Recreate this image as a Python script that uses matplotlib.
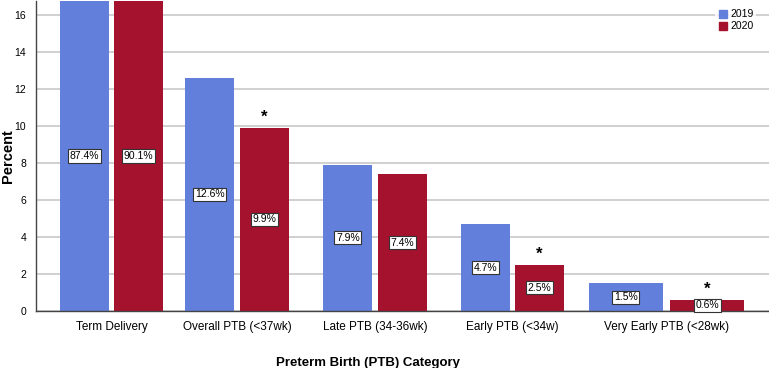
import matplotlib.pyplot as plt
from matplotlib.patches import Patch

categories = ["Term Delivery", "Overall PTB (<37wk)", "Late PTB (34-36wk)",
              "Early PTB (<34w)", "Very Early PTB (<28wk)"]
pct_2019 = [87.4, 12.6, 7.9, 4.7, 1.5]
pct_2020 = [90.1, 9.9, 7.4, 2.5, 0.6]
signif_2020 = [False, True, False, True, True]

# layout (category centres / bar widths, in axis units)
xc = [0.0, 0.905, 1.90, 2.89, 4.0]
bw = [0.353, 0.353, 0.353, 0.353, 0.533]
off = [0.196, 0.196, 0.196, 0.196, 0.294]
ymax = 16.75

c19 = "#6280DB"
c20 = "#A5122D"

plt.rcParams['font.family'] = ['Liberation Sans', 'DejaVu Sans']
fig = plt.figure(figsize=(7.69, 3.68), dpi=100)
ax = fig.add_axes([36 / 769, 57 / 368, 733 / 769, 310 / 368])

ax.set_ylim(0, ymax)
ax.set_xlim(-0.544, 4.739)
ax.set_yticks(range(0, 17, 2))
ax.grid(axis="y", color="#c8c8c8", linewidth=1.2)
ax.set_axisbelow(True)

for i in range(len(categories)):
    x1 = xc[i] - off[i]
    x2 = xc[i] + off[i]
    ax.bar(x1, pct_2019[i], width=bw[i], color=c19, linewidth=0)
    ax.bar(x2, pct_2020[i], width=bw[i], color=c20, linewidth=0)
    for x, v in ((x1, pct_2019[i]), (x2, pct_2020[i])):
        ax.text(x, min(v, ymax) / 2, "{:.1f}%".format(v), ha="center", va="center",
                fontsize=7.5, bbox=dict(boxstyle="square,pad=0.15", fc="white", ec="#333333", lw=0.8))
    if signif_2020[i]:
        ax.text(x2, pct_2020[i] + 0.15, "*", ha="center", va="bottom", fontsize=12, fontweight="bold")

ax.set_xticks(xc)
ax.set_xticklabels(categories, fontsize=8.5)
ax.tick_params(axis="both", length=0)
ax.tick_params(axis="y", labelsize=7.5, pad=7)
ax.tick_params(axis="x", pad=7)
for s in ("top", "right"):
    ax.spines[s].set_visible(False)
for s in ("left", "bottom"):
    ax.spines[s].set_color("#444444")
    ax.spines[s].set_linewidth(1)

ax.set_ylabel("Percent", fontsize=10.5, fontweight="bold", va="center")
ax.yaxis.set_label_coords(-0.038, 0.5)
ax.set_xlabel("Preterm Birth (PTB) Category", fontsize=9.5, fontweight="bold")
ax.xaxis.set_label_coords(0.453, -0.148)

handles = [Patch(color=c19, label="2019"), Patch(color=c20, label="2020")]
leg = ax.legend(handles=handles, loc="upper right", bbox_to_anchor=(0.99, 1.0), fontsize=7.5,
                frameon=True, handlelength=0.8, handleheight=0.8, handletextpad=0.3,
                labelspacing=0.2, borderpad=0.3, fancybox=False)
leg.get_frame().set_edgecolor("none")
leg.get_frame().set_facecolor("white")

fig.savefig("out.png", dpi=100)
